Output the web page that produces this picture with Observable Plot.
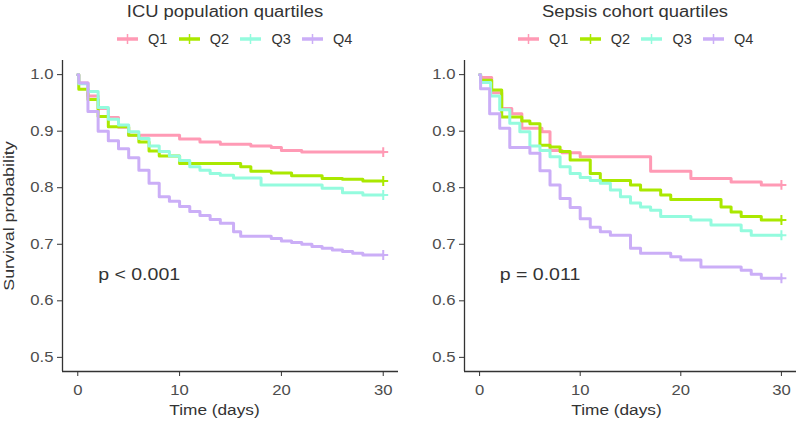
<!DOCTYPE html>
<html><head><meta charset="utf-8">
<script src="https://cdn.jsdelivr.net/npm/d3@7"></script>
<script src="https://cdn.jsdelivr.net/npm/@observablehq/plot@0.6"></script>
<style>
body{margin:0;background:#fff;font-family:"Liberation Sans",Arial,sans-serif;}
#wrap{position:relative;width:797px;height:423px;overflow:hidden;background:#fff}
.title{position:absolute;top:3.5px;font-size:16px;line-height:1;color:#333;white-space:nowrap;transform:translateX(-50%) scaleX(1.15)}
.legend{position:absolute;top:32px;display:flex;font-size:14.5px;line-height:14px;color:#333}
.item{display:flex;align-items:center;width:61.7px;height:14px}
.item svg{margin-right:10px;display:block}
.panel{position:absolute;top:50px}
</style></head><body><div id="wrap"></div>
<script>
const groups = ["Q1", "Q2", "Q3", "Q4"];
const colors = ["#ff9ab5", "#aae800", "#94fbde", "#cbaef7"];
const xTicks = [0, 10, 20, 30];
const yTicks = [0.5, 0.6, 0.7, 0.8, 0.9, 1.0];
const xDomain = [-1.5, 31.5];
const yDomain = [0.475, 1.025];

// ICU population quartiles: [time (days), survival]
const icuQ1 = [[0,1],[0.1,0.985],[1,0.962],[2,0.940],[3,0.924],[4,0.907],[5,0.893],[10,0.886],[12,0.881],[14,0.877],[17,0.874],[19,0.871],[20,0.866],[22,0.863],[30,0.863]];
const icuQ2 = [[0,1],[0.1,0.974],[1,0.956],[2,0.926],[3,0.908],[5,0.893],[6,0.881],[7,0.865],[8,0.856],[10,0.843],[16,0.837],[17,0.829],[19,0.826],[21,0.821],[24,0.8165],[26,0.815],[28,0.812],[30,0.812]];
const icuQ3 = [[0,1],[0.1,0.984],[1,0.970],[2,0.942],[3,0.921],[4,0.911],[5,0.899],[6,0.887],[7,0.874],[8,0.864],[9,0.856],[10,0.848],[11,0.837],[12,0.831],[13,0.825],[14,0.822],[15.3,0.817],[18,0.805],[24,0.799],[26,0.791],[28,0.787],[30,0.787]];
const icuQ4 = [[0,1],[0.1,0.985],[1,0.935],[2,0.900],[3,0.883],[4,0.869],[5,0.853],[6,0.831],[7,0.808],[8,0.784],[9,0.776],[10,0.767],[11,0.758],[12,0.751],[13,0.744],[14,0.737],[15.3,0.722],[16,0.714],[19,0.710],[20,0.706],[21,0.703],[22,0.700],[23,0.696],[24,0.693],[25,0.690],[26,0.687],[27,0.684],[28,0.681],[30,0.681]];

// Sepsis cohort quartiles
const sepQ1 = [[0,1],[0.1,0.995],[1.2,0.968],[2.2,0.940],[3.2,0.931],[4.2,0.905],[6.2,0.899],[7,0.866],[8.2,0.862],[10,0.855],[17,0.829],[21,0.8165],[25,0.810],[28,0.805],[30,0.805]];
const sepQ2 = [[0,1],[0.1,0.99],[1.2,0.973],[2.2,0.925],[4.2,0.918],[5,0.913],[6,0.875],[7,0.872],[8,0.864],[9,0.849],[11,0.825],[12,0.813],[15,0.805],[16,0.796],[18,0.787],[19,0.779],[24,0.766],[25,0.757],[26,0.749],[28,0.743],[30,0.743]];
const sepQ3 = [[0,1],[0.1,0.986],[1.1,0.962],[2,0.938],[3,0.914],[4,0.899],[5,0.874],[6,0.866],[7,0.855],[8,0.837],[9,0.825],[10,0.818],[11,0.813],[12,0.808],[13,0.796],[14,0.784],[15,0.773],[16,0.766],[17,0.760],[18,0.749],[21,0.743],[23,0.734],[26,0.724],[27,0.716],[30,0.716]];
const sepQ4 = [[0,1],[0.1,0.975],[1,0.931],[2,0.905],[3,0.871],[5,0.861],[6,0.830],[7,0.805],[8,0.781],[9,0.765],[10,0.745],[11,0.730],[12,0.722],[13,0.716],[15,0.693],[16,0.684],[19,0.678],[20,0.672],[22,0.660],[26,0.654],[27,0.647],[28,0.640],[30,0.640]];

const titles = ["ICU population quartiles", "Sepsis cohort quartiles"];
const pTexts = ["p < 0.001", "p = 0.011"];
const pPos = [2, 0.636];
const xLabel = "Time (days)";
const yLabel = "Survival probability";

const panels = [
  {series: [icuQ1, icuQ2, icuQ3, icuQ4], left: 0, width: 400, mL: 62, mR: 2, titleX: 225, legendX: 117, xLabelDx: -16, showY: true},
  {series: [sepQ1, sepQ2, sepQ3, sepQ4], left: 400, width: 397, mL: 64, mR: 1, titleX: 235, legendX: 118, xLabelDx: -14, showY: false}
];

const wrap = document.getElementById("wrap");
const SX = 1.15;

panels.forEach((p, k) => {
  const rows = [];
  p.series.forEach((s, gi) => s.forEach(([t, v]) => rows.push({group: groups[gi], t, v})));
  const ends = p.series.map((s, gi) => ({group: groups[gi], t: s[s.length - 1][0], v: s[s.length - 1][1]}));

  const ti = document.createElement("div");
  ti.className = "title";
  ti.style.left = (p.left + p.titleX) + "px";
  ti.textContent = titles[k];
  wrap.appendChild(ti);

  const lg = document.createElement("div");
  lg.className = "legend";
  lg.style.left = (p.left + p.legendX) + "px";
  groups.forEach((g, i) => {
    const it = document.createElement("div");
    it.className = "item";
    it.innerHTML = `<svg width="21" height="12"><line x1="0" y1="6" x2="21" y2="6" stroke="${colors[i]}" stroke-width="3.5"/><line x1="10.5" y1="1" x2="10.5" y2="11" stroke="${colors[i]}" stroke-width="1.5"/></svg><span>${g}</span>`;
    lg.appendChild(it);
  });
  wrap.appendChild(lg);

  const marks = [
    Plot.line(rows, {x: "t", y: "v", z: "group", stroke: "group", curve: "step-after", strokeWidth: 3}),
    Plot.dot(ends, {x: "t", y: "v", stroke: "group", symbol: "plus", r: 3.3, strokeWidth: 2}),
    Plot.ruleX([xDomain[0]], {stroke: "#333", strokeWidth: 1.3}),
    Plot.ruleY([yDomain[0]], {stroke: "#333", strokeWidth: 1.3}),
    Plot.axisX(xTicks, {tickSize: 5, tickPadding: 8, fontSize: 14.5, stroke: "#333", fill: "#4d4d4d", label: null}),
    Plot.axisY(yTicks, {tickSize: 5, tickPadding: 4, fontSize: 14.5, stroke: "#333", fill: "#4d4d4d", label: null, tickFormat: d3.format(".1f")}),
    Plot.text([xLabel], {frameAnchor: "bottom", lineAnchor: "bottom", dy: 43.5, dx: p.xLabelDx, fontSize: 15, fill: "#333"}),
    Plot.text([pTexts[k]], {x: pPos[0], y: pPos[1], textAnchor: "start", lineAnchor: "bottom", fontSize: 17, fill: "#333"})
  ];
  if (p.showY) marks.push(Plot.text([yLabel], {frameAnchor: "left", rotate: -90, dx: -49, textAnchor: "middle", lineAnchor: "bottom", fontSize: 15.5, fill: "#333"}));

  const chart = Plot.plot({
    width: p.width, height: 373,
    marginTop: 10, marginBottom: 52, marginLeft: p.mL, marginRight: p.mR,
    style: {fontFamily: "Liberation Sans, Arial, sans-serif", background: "white", overflow: "visible", color: "#333"},
    x: {domain: xDomain},
    y: {domain: yDomain},
    color: {domain: groups, range: colors},
    marks
  });
  chart.querySelectorAll("text").forEach(t => {
    const tr = t.getAttribute("transform") || "";
    t.setAttribute("transform", tr + ` scale(${SX},1)`);
  });
  const holder = document.createElement("div");
  holder.className = "panel";
  holder.style.left = p.left + "px";
  holder.appendChild(chart);
  wrap.appendChild(holder);
});
</script></body></html>
